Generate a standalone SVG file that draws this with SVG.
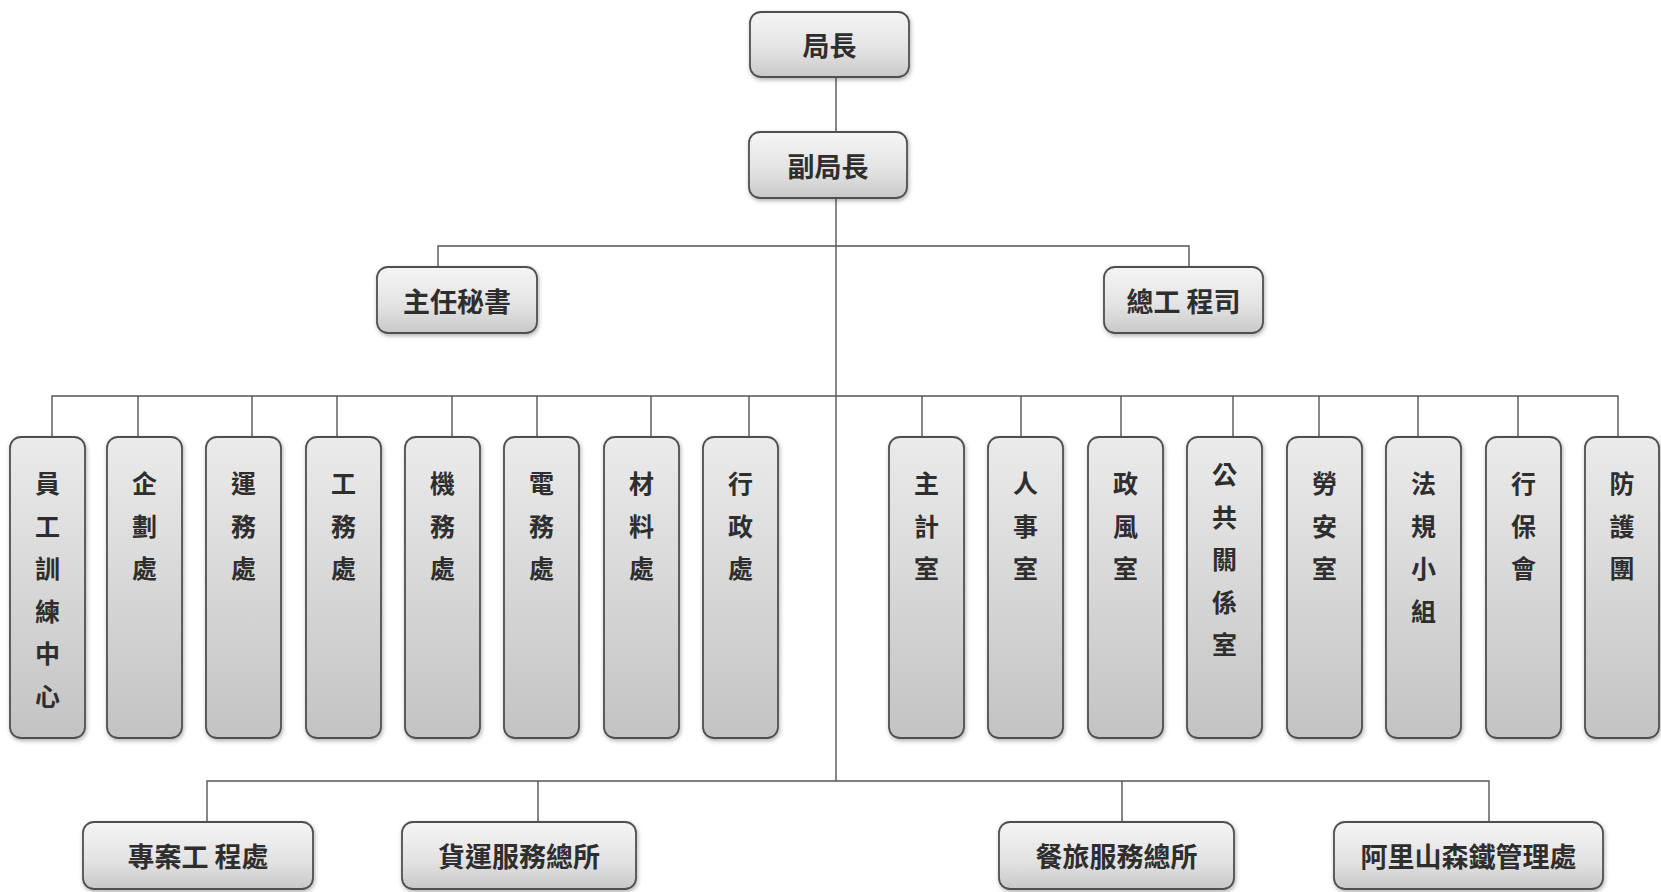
<svg xmlns="http://www.w3.org/2000/svg" width="1661" height="892" viewBox="0 0 1661 892">
<defs>
<linearGradient id="gh" x1="0" y1="0" x2="0" y2="1">
<stop offset="0" stop-color="#f5f5f5"/>
<stop offset="0.6" stop-color="#e2e2e2"/>
<stop offset="1" stop-color="#c8c8c8"/>
</linearGradient>
<linearGradient id="gv" x1="0" y1="0" x2="0" y2="1">
<stop offset="0" stop-color="#ebebeb"/>
<stop offset="1" stop-color="#c3c3c3"/>
</linearGradient>
<filter id="sh" x="-20%" y="-20%" width="140%" height="140%">
<feDropShadow dx="1" dy="2" stdDeviation="2" flood-color="#000" flood-opacity="0.3"/>
</filter>
</defs>
<style>
.bh{fill:url(#gh);stroke:#505050;stroke-width:1.8;filter:url(#sh)}
.bv{fill:url(#gv);stroke:#505050;stroke-width:1.8;filter:url(#sh)}
.t{font-family:"Noto Sans CJK TC","Noto Sans CJK SC",sans-serif;font-size:27px;font-weight:700;fill:#2e2e2e;text-anchor:middle;dominant-baseline:central}
.tv{font-family:"Noto Sans CJK TC","Noto Sans CJK SC",sans-serif;font-size:25px;font-weight:700;fill:#2e2e2e;text-anchor:middle;dominant-baseline:central}
.c{fill:none;stroke:#555;stroke-width:1.4}
</style>
<rect width="1661" height="892" fill="#fff"/>
<g id="connectors">
<path class="c" d="M836 77V132"/>
<path class="c" d="M836 198V781"/>
<path class="c" d="M438 267V246H1189V267"/>
<path class="c" d="M52 437V396H1618V437"/>
<path class="c" d="M138 396V437M252 396V437M337 396V437M452 396V437M537 396V437M651 396V437M749 396V437"/>
<path class="c" d="M922 396V437M1021 396V437M1121 396V437M1233 396V437M1319 396V437M1418 396V437M1518 396V437"/>
<path class="c" d="M207 822V781H1489V822"/>
<path class="c" d="M538 781V822M1122 781V822"/>
</g>
<g id="n-juzhang"><rect class="bh" x="750" y="12" width="159" height="65" rx="11"/><text class="t" x="829.5" y="44.5">局長</text></g>
<g id="n-fujuzhang"><rect class="bh" x="749" y="132" width="158" height="66" rx="11"/><text class="t" x="828" y="165">副局長</text></g>
<g id="n-mishu"><rect class="bh" x="377" y="267" width="160" height="66" rx="11"/><text class="t" x="457" y="300">主任秘書</text></g>
<g id="n-zonggong"><rect class="bh" x="1104" y="267" width="159" height="66" rx="11"/><text class="t" x="1183.5" y="300">總工 程司</text></g>

<g id="n-yuangong"><rect class="bv" x="10" y="437" width="75" height="301" rx="11"/><text class="tv" y="482"><tspan x="47.5">員</tspan><tspan x="47.5" dy="42.5">工</tspan><tspan x="47.5" dy="42.5">訓</tspan><tspan x="47.5" dy="42.5">練</tspan><tspan x="47.5" dy="42.5">中</tspan><tspan x="47.5" dy="42.5">心</tspan></text></g>
<g id="n-qihua"><rect class="bv" x="107" y="437" width="75" height="301" rx="11"/><text class="tv" y="482"><tspan x="144.5">企</tspan><tspan x="144.5" dy="42.5">劃</tspan><tspan x="144.5" dy="42.5">處</tspan></text></g>
<g id="n-yunwu"><rect class="bv" x="206" y="437" width="75" height="301" rx="11"/><text class="tv" y="482"><tspan x="243.5">運</tspan><tspan x="243.5" dy="42.5">務</tspan><tspan x="243.5" dy="42.5">處</tspan></text></g>
<g id="n-gongwu"><rect class="bv" x="306" y="437" width="75" height="301" rx="11"/><text class="tv" y="482"><tspan x="343.5">工</tspan><tspan x="343.5" dy="42.5">務</tspan><tspan x="343.5" dy="42.5">處</tspan></text></g>
<g id="n-jiwu"><rect class="bv" x="405" y="437" width="75" height="301" rx="11"/><text class="tv" y="482"><tspan x="442.5">機</tspan><tspan x="442.5" dy="42.5">務</tspan><tspan x="442.5" dy="42.5">處</tspan></text></g>
<g id="n-dianwu"><rect class="bv" x="504" y="437" width="75" height="301" rx="11"/><text class="tv" y="482"><tspan x="541.5">電</tspan><tspan x="541.5" dy="42.5">務</tspan><tspan x="541.5" dy="42.5">處</tspan></text></g>
<g id="n-cailiao"><rect class="bv" x="604" y="437" width="75" height="301" rx="11"/><text class="tv" y="482"><tspan x="641.5">材</tspan><tspan x="641.5" dy="42.5">料</tspan><tspan x="641.5" dy="42.5">處</tspan></text></g>
<g id="n-xingzheng"><rect class="bv" x="703" y="437" width="75" height="301" rx="11"/><text class="tv" y="482"><tspan x="740.5">行</tspan><tspan x="740.5" dy="42.5">政</tspan><tspan x="740.5" dy="42.5">處</tspan></text></g>

<g id="n-zhuji"><rect class="bv" x="889" y="437" width="75" height="301" rx="11"/><text class="tv" y="482"><tspan x="926.5">主</tspan><tspan x="926.5" dy="42.5">計</tspan><tspan x="926.5" dy="42.5">室</tspan></text></g>
<g id="n-renshi"><rect class="bv" x="988" y="437" width="75" height="301" rx="11"/><text class="tv" y="482"><tspan x="1025.5">人</tspan><tspan x="1025.5" dy="42.5">事</tspan><tspan x="1025.5" dy="42.5">室</tspan></text></g>
<g id="n-zhengfeng"><rect class="bv" x="1088" y="437" width="75" height="301" rx="11"/><text class="tv" y="482"><tspan x="1125.5">政</tspan><tspan x="1125.5" dy="42.5">風</tspan><tspan x="1125.5" dy="42.5">室</tspan></text></g>
<g id="n-gonggong"><rect class="bv" x="1187" y="437" width="75" height="301" rx="11"/><text class="tv" y="473"><tspan x="1224.5">公</tspan><tspan x="1224.5" dy="42.5">共</tspan><tspan x="1224.5" dy="42.5">關</tspan><tspan x="1224.5" dy="42.5">係</tspan><tspan x="1224.5" dy="42.5">室</tspan></text></g>
<g id="n-laoan"><rect class="bv" x="1287" y="437" width="75" height="301" rx="11"/><text class="tv" y="482"><tspan x="1324.5">勞</tspan><tspan x="1324.5" dy="42.5">安</tspan><tspan x="1324.5" dy="42.5">室</tspan></text></g>
<g id="n-fagui"><rect class="bv" x="1386" y="437" width="75" height="301" rx="11"/><text class="tv" y="482"><tspan x="1423.5">法</tspan><tspan x="1423.5" dy="42.5">規</tspan><tspan x="1423.5" dy="42.5">小</tspan><tspan x="1423.5" dy="42.5">組</tspan></text></g>
<g id="n-xingbao"><rect class="bv" x="1486" y="437" width="75" height="301" rx="11"/><text class="tv" y="482"><tspan x="1523.5">行</tspan><tspan x="1523.5" dy="42.5">保</tspan><tspan x="1523.5" dy="42.5">會</tspan></text></g>
<g id="n-fanghu"><rect class="bv" x="1585" y="437" width="74" height="301" rx="11"/><text class="tv" y="482"><tspan x="1622">防</tspan><tspan x="1622" dy="42.5">護</tspan><tspan x="1622" dy="42.5">團</tspan></text></g>

<g id="n-zhuanan"><rect class="bh" x="83" y="822" width="230" height="67" rx="11"/><text class="t" x="198" y="855.5">專案工 程處</text></g>
<g id="n-huoyun"><rect class="bh" x="402" y="822" width="234" height="67" rx="11"/><text class="t" x="519" y="855.5">貨運服務總所</text></g>
<g id="n-canlv"><rect class="bh" x="999" y="822" width="235" height="67" rx="11"/><text class="t" x="1116.5" y="855.5">餐旅服務總所</text></g>
<g id="n-alishan"><rect class="bh" x="1334" y="822" width="269" height="67" rx="11"/><text class="t" x="1468.5" y="855.5">阿里山森鐵管理處</text></g>
</svg>
